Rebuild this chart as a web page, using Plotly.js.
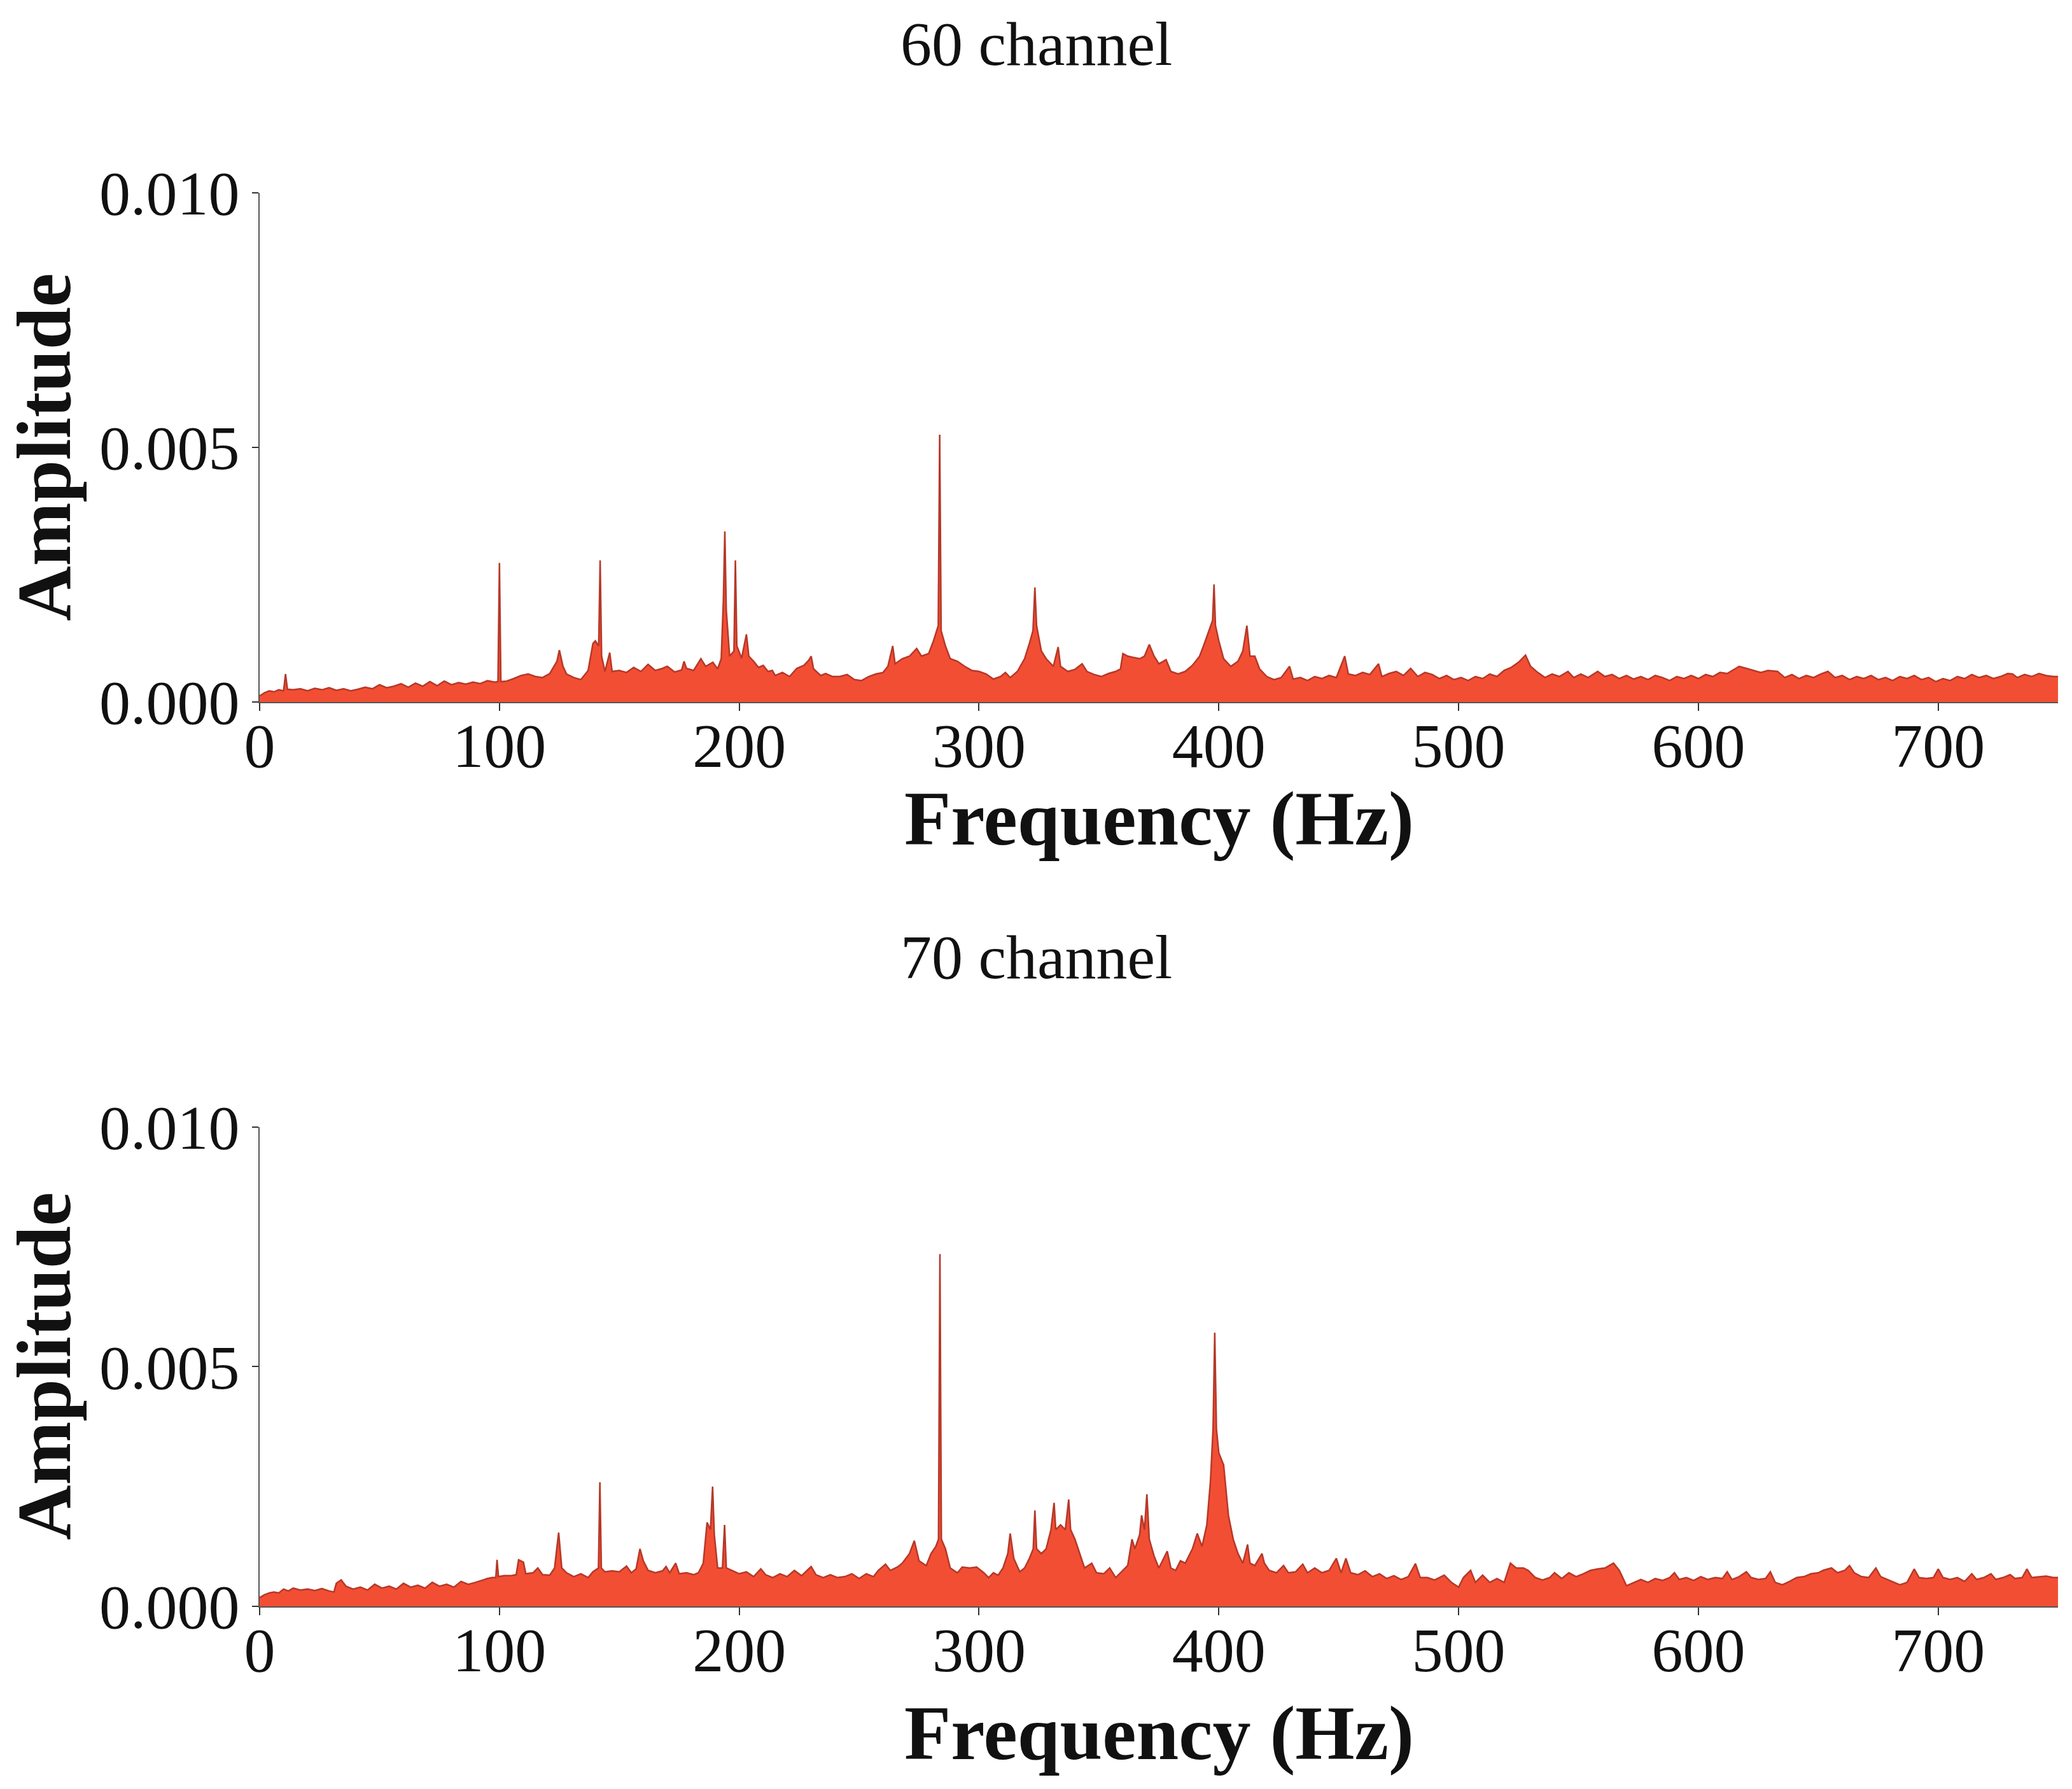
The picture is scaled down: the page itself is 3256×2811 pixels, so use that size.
<!DOCTYPE html>
<html>
<head>
<meta charset="utf-8">
<script src="https://cdn.plot.ly/plotly-3.0.1.min.js"></script>
<style>html,body{margin:0;padding:0;background:#fff}</style>
</head>
<body>
<div id="chart" style="width:3256px;height:2811px"></div>
<script>
// ---- 60 channel spectrum (Hz, amplitude) ----
const freq60 = [0,2,4,6,8,10,10.8,11.6,14,17,20,23,26,29,32,35,38,41,44,47,50,53,56,59,62,65,68,71,74,77,80,83,86,89,92,95,98,99.4,100,100.6,103,106,109,112,115,118,121,124,125,126.5,128,131,134,137,139,140,141.4,142,142.6,144,146,147,150,153,156,159,162,165,168,170,173,176,177,178,181,184,186,189,191,192.5,193.4,194,194.6,196,197.8,198.4,199,201,203,204,206,208,210,212,213.8,215,218,221,224,227,229,230,231,234,236,239,242,245,248,251,254,257,260,262,264,265,268,271,274,276,279,281,283,283.6,284.2,286,288,291,294,297,300,303,306,309,311,313,316,319,321,322.5,323.3,324,326,328,331,333,334,337,340,343,345,348,351,354,357,359,360,362,364,367,369,371,373,375,378,380,383,386,389,392,394,396,397.4,398,398.6,400,402,405,408,410,411.7,413,415,417,420,423,426,429.5,431,434,437,440,443,446,449,452.5,454,457,460,463,466.6,468,471,474,477,480,483,486,489,492,495,498,501,504,507,510,513,516,519,522,525,527.9,530,533,536,539,542,545.6,548,551,554,558,561,564,567,570,573,576,579,582,585,588,591,594,597,600,603,606,609,612,615,617,620,623,626,629,633,636,639,642,645,648,651,654,657,660,663,666,669,672,675,678,681,684,687,690,693,696,699,702,705,708,711,714,717,720,723,726,729,731,733,736,739,742,745,748,750];
const amp60 = [.00012,.00018,.00022,.0002,.00024,.00022,.00055,.00025,.00024,.00026,.00022,.00027,.00024,.00028,.00023,.00026,.00022,.00025,.00029,.00026,.00034,.00028,.00031,.00036,.00029,.00037,.00031,.0004,.00032,.00041,.00034,.00038,.00035,.00039,.00036,.00042,.00039,.0004,.00273,.0004,.00041,.00046,.00052,.00055,.0005,.00048,.00056,.0008,.00102,.0007,.00055,.00048,.00044,.00062,.00115,.0012,.0011,.00278,.0009,.0006,.00097,.0006,.00062,.00058,.00068,.0006,.00074,.00062,.00066,.0007,.00059,.00063,.0008,.00066,.00062,.00085,.0007,.00078,.00065,.00085,.002,.00335,.0018,.0009,.001,.00278,.0011,.00086,.00133,.0009,.0008,.00068,.00072,.0006,.00062,.00052,.00058,.0005,.00066,.00072,.00082,.0009,.00065,.00052,.00056,.0005,.0005,.00054,.00044,.00042,.0005,.00055,.00058,.0007,.0011,.00075,.00085,.0009,.00105,.0009,.00095,.0012,.0015,.00525,.0014,.0011,.00085,.0008,.0007,.00062,.0006,.00055,.00045,.0005,.00058,.00048,.0006,.00085,.00115,.0014,.00225,.0015,.001,.00085,.0007,.00108,.0007,.0006,.00064,.00075,.0006,.00054,.0005,.00056,.0006,.00065,.00095,.0009,.00088,.00085,.0009,.00113,.0009,.00075,.00083,.0006,.00055,.0006,.00072,.0009,.00115,.0014,.0016,.00231,.0015,.0012,.00085,.0007,.0008,.001,.0015,.0009,.0009,.00065,.0005,.00044,.00048,.0007,.00045,.00048,.00042,.0005,.00046,.00052,.00048,.0009,.00055,.00052,.00058,.00054,.00075,.0005,.00056,.0006,.00052,.00066,.0005,.00058,.00054,.00046,.00052,.00044,.00048,.00042,.0005,.00046,.00055,.0005,.00062,.00068,.00078,.00092,.0007,.00058,.00048,.00055,.0005,.0006,.00048,.00055,.00048,.0006,.0005,.00054,.00046,.00052,.00045,.0005,.00044,.00052,.00048,.00042,.0005,.00046,.00052,.00046,.00054,.0005,.00058,.00056,.00064,.0007,.00066,.00062,.00058,.00062,.0006,.00048,.00054,.00046,.00052,.00048,.00055,.0006,.00048,.00052,.00044,.0005,.00046,.00052,.00044,.00048,.00042,.0005,.00046,.00052,.00044,.00048,.0004,.00046,.00042,.0005,.00046,.00054,.00048,.00052,.00046,.0005,.00056,.00055,.00048,.00054,.0005,.00056,.00052,.0005,.0005];

// ---- 70 channel spectrum (Hz, amplitude) ----
const freq70 = [0,2,4,6,8,10,12,14,17,20,23,26,29,31,32,34,36,39,42,45,48,51,54,57,60,63,66,69,72,75,78,81,84,87,90,93,95,97,98.5,99,99.6,102,105,107,108,110,111,114,116,118,121,123,124.7,126,128,131,134,137,139,141.3,141.9,142.5,144,147,150,153,155,157,158.6,160,162,165,168,169.5,171,173.5,175,178,181,183,185,186.6,188,188.9,189.6,191,193,193.9,194.6,197,200,203,206,209,211,214,217,220,223,226,230,232,235,238,241,244,247,250,253,256,258,261,263,266,268,271,273,275,278,280,282,283.1,283.7,284.3,286,288,291,293,296,299,302,304,306,308,310,312,313,314.5,317,319,321,322.6,323.3,324,326,328,330,331.3,332,334,336,337.4,338.2,340,342,344,347,349,352,354.5,357,360,362,363.8,365,367,367.8,369,370,371,373,375,378.5,380,382,384,386,389,391,393,395,396.5,397.6,398.3,399,400,402,404,406,408,410,412,413,415,418,419,421,424,427,429,432,435,437,440,443,446,449,451,453,455,458,461,464,467,470,473,476,479,482,484,487,490,494,497,500,502,505,507,510,513,516,519,521.6,524,527,529,532,535,538,540,543,546,549,552,555,558,561,564.6,567,570,573,576,579,582,585,588,590,592,595,598,601,604,607,610,612,614,617,620,622,625,628,630,632,635,638,641,644,647,650,652,655.5,658,661,663,665,668,671,674,676,679,682,684,687,690,692,695,698,700,702,705,708,711,714,716,719,722,724,727,730,732,735,737,739,742,745,748,750];
const amp70 = [.00018,.00024,.00028,.0003,.00028,.00036,.00032,.00038,.00034,.00036,.00033,.00037,.00032,.0003,.00048,.00055,.00042,.00036,.0004,.00034,.00046,.00038,.00042,.00036,.00048,.0004,.00044,.00038,.0005,.00042,.00046,.0004,.00052,.00046,.0005,.00055,.00058,.0006,.0006,.00097,.00062,.00064,.00064,.00066,.00097,.00092,.00068,.0007,.0008,.00066,.00065,.0008,.00154,.0008,.0007,.00062,.00068,.0006,.00072,.0008,.00259,.0008,.00072,.00074,.00072,.00084,.0007,.00078,.0012,.00095,.00075,.0007,.00074,.00083,.0007,.0009,.00068,.0007,.00066,.0007,.0009,.00175,.0016,.0025,.0015,.0008,.0008,.0017,.0008,.00075,.00068,.00072,.00062,.00078,.00066,.0006,.00068,.00062,.00075,.00064,.00083,.00066,.0006,.00066,.0006,.00062,.00068,.00058,.00068,.00062,.00075,.00088,.00075,.00082,.0009,.0011,.00137,.00095,.00085,.0011,.00125,.0014,.00735,.0014,.0012,.0008,.0007,.00082,.0008,.00082,.0007,.0006,.0007,.00065,.0008,.0011,.00152,.001,.00072,.0008,.001,.0012,.002,.0012,.0011,.0012,.0016,.00216,.0016,.0017,.0016,.00223,.0016,.0014,.0011,.0008,.0009,.0007,.00068,.0008,.0006,.00075,.00085,.0014,.0012,.0015,.0019,.0016,.00234,.0014,.00105,.0008,.00115,.0008,.00075,.00095,.0009,.0012,.00152,.00125,.0017,.0026,.0037,.00571,.0037,.0032,.00295,.0019,.0014,.0011,.0009,.00129,.0009,.00085,.0011,.0009,.00075,.0007,.00085,.0007,.00072,.00088,.0007,.0008,.0007,.00075,.001,.0007,.001,.0007,.00066,.00074,.00062,.00068,.00058,.00064,.00056,.00062,.00089,.0006,.0006,.00055,.00065,.0005,.0004,.0006,.00075,.0005,.00065,.0005,.00058,.0005,.0009,.0008,.0008,.00075,.0006,.00055,.0006,.0007,.00058,.0007,.00062,.00068,.00075,.00078,.0008,.0009,.00075,.00043,.0005,.00056,.0005,.00058,.00054,.0006,.0007,.00056,.0006,.00054,.00062,.00056,.0006,.00058,.00072,.00056,.00062,.00072,.0006,.00056,.00058,.00072,.0005,.00045,.00052,.0006,.00062,.00068,.0007,.00075,.0008,.0007,.00075,.00085,.0007,.00062,.0006,.0008,.00062,.00056,.0005,.00045,.0005,.00078,.0006,.00058,.0006,.00078,.0006,.00056,.0006,.00052,.00068,.00056,.0006,.00068,.00056,.0006,.00066,.00058,.0006,.00078,.0006,.00062,.00063,.0006,.0006];

const xTickVals = [0,100,200,300,400,500,600,700];
const xTickText = ['0','100','200','300','400','500','600','700'];
const yTickVals = [0,0.005,0.010];
const yTickText = ['0.000','0.005','0.010'];
const panelTitles = ['60 channel','70 channel'];
const xTitle = 'Frequency (Hz)';
const yTitle = 'Amplitude';

const FILL = 'rgb(242,78,52)';
const EDGE = 'rgb(182,56,40)';
const SERIF = 'Liberation Serif, Times New Roman, serif';

const traces = [
  {x: freq60, y: amp60, type: 'scatter', mode: 'lines', fill: 'tozeroy',
   fillcolor: FILL, line: {color: EDGE, width: 2.5}, xaxis: 'x', yaxis: 'y', hoverinfo: 'skip'},
  {x: freq70, y: amp70, type: 'scatter', mode: 'lines', fill: 'tozeroy',
   fillcolor: FILL, line: {color: EDGE, width: 2.5}, xaxis: 'x2', yaxis: 'y2', hoverinfo: 'skip'}
];

function xa(anchor) {
  return {domain: [0.1253, 0.9933], range: [0, 750], anchor: anchor,
    tickvals: xTickVals, ticktext: xTickText, ticks: 'outside', ticklen: 12, tickwidth: 2,
    tickcolor: '#333', showline: true, linecolor: '#555', linewidth: 2,
    ticklabelstandoff: -30,
    showgrid: false, zeroline: false, tickfont: {family: SERIF, size: 98, color: '#111'}};
}
function ya(anchor, dom) {
  return {domain: dom, range: [0, 0.010], anchor: anchor,
    tickvals: yTickVals, ticktext: yTickText, ticks: 'outside', ticklen: 10, tickwidth: 2,
    tickcolor: '#333', showline: true, linecolor: '#555', linewidth: 2,
    showgrid: false, zeroline: false, tickfont: {family: SERIF, size: 98, color: '#111'}};
}

const ann = [
  {text: panelTitles[0], x: 0.5, y: 0.9755, xref: 'paper', yref: 'paper', showarrow: false,
   font: {family: SERIF, size: 98, color: '#111'}, xanchor: 'center', yanchor: 'middle'},
  {text: panelTitles[1], x: 0.5, y: 0.465, xref: 'paper', yref: 'paper', showarrow: false,
   font: {family: SERIF, size: 98, color: '#111'}, xanchor: 'center', yanchor: 'middle'},
  {text: '<b>' + xTitle + '</b>', x: 0.5593, y: 0.5422, xref: 'paper', yref: 'paper', showarrow: false,
   font: {family: SERIF, size: 120, color: '#111'}, xanchor: 'center', yanchor: 'middle'},
  {text: '<b>' + xTitle + '</b>', x: 0.5593, y: 0.0310, xref: 'paper', yref: 'paper', showarrow: false,
   font: {family: SERIF, size: 120, color: '#111'}, xanchor: 'center', yanchor: 'middle'},
  {text: '<b>' + yTitle + '</b>', x: 0.0212, y: 0.7499, xref: 'paper', yref: 'paper', showarrow: false,
   textangle: -90, font: {family: SERIF, size: 120, color: '#111'}, xanchor: 'center', yanchor: 'middle'},
  {text: '<b>' + yTitle + '</b>', x: 0.0212, y: 0.2362, xref: 'paper', yref: 'paper', showarrow: false,
   textangle: -90, font: {family: SERIF, size: 120, color: '#111'}, xanchor: 'center', yanchor: 'middle'}
];

const layout = {
  width: 3256, height: 2811,
  margin: {l: 0, r: 0, t: 0, b: 0},
  paper_bgcolor: '#fff', plot_bgcolor: '#fff',
  showlegend: false,
  xaxis: xa('y'), yaxis: ya('x', [0.6076, 0.8922]),
  xaxis2: xa('y2'), yaxis2: ya('x2', [0.1021, 0.3700]),
  annotations: ann
};

Plotly.newPlot('chart', traces, layout, {staticPlot: true, displayModeBar: false});
</script>
</body>
</html>
